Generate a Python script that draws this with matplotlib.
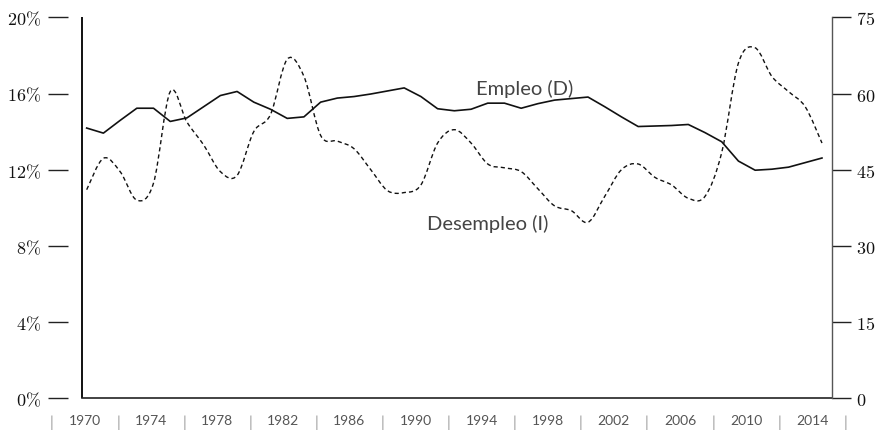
import numpy as np
import matplotlib
matplotlib.use("Agg")
import matplotlib.pyplot as plt
from matplotlib.path import Path
from matplotlib.patches import PathPatch
from matplotlib.transforms import blended_transform_factory

plt.rcParams['mathtext.fontset'] = 'cm'

years = list(range(1970, 2015))
empleo = [53.2, 52.2, 54.7, 57.1, 57.1, 54.5, 55.2, 57.4, 59.6, 60.4,
          58.3, 56.9, 55.1, 55.4, 58.3, 59.1, 59.4, 59.9, 60.5, 61.1,
          59.4, 57.0, 56.6, 56.9, 58.1, 58.1, 57.1, 58.0, 58.7, 59.0,
          59.3, 57.4, 55.4, 53.5, 53.6, 53.7, 53.9, 52.3, 50.5, 46.7,
          44.9, 45.1, 45.5, 46.4, 47.3]
desempleo = [10.95, 12.6, 11.9, 10.4, 11.3, 16.1, 14.5, 13.3, 11.9, 11.7,
             14.0, 14.9, 17.8, 16.9, 13.8, 13.5, 13.1, 12.0, 10.9, 10.8,
             11.2, 13.4, 14.1, 13.4, 12.3, 12.1, 11.9, 11.0, 10.1, 9.85,
             9.24, 10.6, 12.0, 12.3, 11.6, 11.2, 10.5, 10.6, 12.9, 17.6,
             18.4, 16.9, 16.1, 15.3, 13.4]
label_years = list(range(1970, 2015, 4))
left_ticks = [0, 4, 8, 12, 16, 20]
left_labels = [r'$0\%$', r'$4\%$', r'$8\%$', r'$12\%$', r'$16\%$', r'$20\%$']
right_ticks = [0, 15, 30, 45, 60, 75]

W, H = 883, 431
fig = plt.figure(figsize=(W / 100, H / 100), dpi=100)
x0, x1, ytop, ybot = 82, 832, 18.3, 399.3
ax = fig.add_axes([x0 / W, (H - ybot) / H, (x1 - x0) / W, (ybot - ytop) / H])
ax2 = ax.twinx()

ax.set_xlim(1969.72, 2014.6)
ax.set_ylim(0, 20)
ax2.set_ylim(0, 75)

# Desempleo (left axis) - smooth dashed curve via Bezier path
pts = np.column_stack([years, desempleo]).astype(float)
n = len(pts)
verts = [tuple(pts[0])]
codes = [Path.MOVETO]
for i in range(n - 1):
    p0 = pts[max(i - 1, 0)]
    p1 = pts[i]
    p2 = pts[i + 1]
    p3 = pts[min(i + 2, n - 1)]
    c1 = p1 + (p2 - p0) / 6.0
    c2 = p2 - (p3 - p1) / 6.0
    verts += [tuple(c1), tuple(c2), tuple(p2)]
    codes += [Path.CURVE4] * 3
patch = PathPatch(Path(verts, codes), fill=False, edgecolor='#111111',
                  lw=1.0, linestyle=(0, (3, 2.2)))
ax.add_patch(patch)

# Empleo (right axis)
ax2.plot(years, empleo, color='#111111', lw=1.2, solid_joinstyle='round')

# spines
for s in ['top', 'right', 'bottom']:
    ax.spines[s].set_visible(False)
ax.spines['left'].set_position(('outward', 10))
ax.spines['left'].set_visible(False)
ax.plot([0, 0], [0, 1], transform=ax.transAxes, color='#111111', lw=1.4,
        clip_on=False, solid_capstyle='butt')
ax.spines['bottom'].set_visible(True)
ax.spines['bottom'].set_linewidth(1.2)
ax.spines['bottom'].set_color('#222222')

for s in ['top', 'left', 'bottom']:
    ax2.spines[s].set_visible(False)
ax2.spines['right'].set_color('#555555')
ax2.spines['right'].set_linewidth(1.0)

ax.set_yticks(left_ticks)
ax.set_yticklabels(left_labels)
ax.tick_params(axis='y', direction='out', length=14.4, width=1.0,
               color='#222222', pad=5, labelsize=13, labelcolor='#111111')
ax2.set_yticks(right_ticks)
ax2.set_yticklabels([rf'${v}$' for v in right_ticks])
ax2.tick_params(axis='y', direction='out', length=14, width=1.0,
                color='#222222', pad=3, labelsize=13, labelcolor='#111111')

ax.set_xticks([])
ax2.set_xticks([])

# x labels with separators
trans = blended_transform_factory(ax.transData, ax.transAxes)
ypos = -0.058
for yv in label_years:
    xp = 1969.9 + (yv - 1970) * 0.989
    ax.text(xp, ypos, str(yv), transform=trans, ha='center', va='center',
            fontsize=10, color='#555555', family='Lato', clip_on=False)
for yv in label_years + [label_years[-1] + 4]:
    xp = 1969.9 + (yv - 2 - 1970) * 0.989
    ax.text(xp, ypos - 0.004, '|', transform=trans, ha='center', va='center',
            fontsize=11, color='#999999', family='Lato', clip_on=False)

# annotations
ax2.text(1996.2, 61.0, 'Empleo (D)', ha='center', va='center',
         fontsize=14.5, color='#444444', family='Lato')
ax.text(1994.0, 9.2, 'Desempleo (I)', ha='center', va='center',
        fontsize=14.5, color='#444444', family='Lato')

fig.savefig('out.png', dpi=100)
